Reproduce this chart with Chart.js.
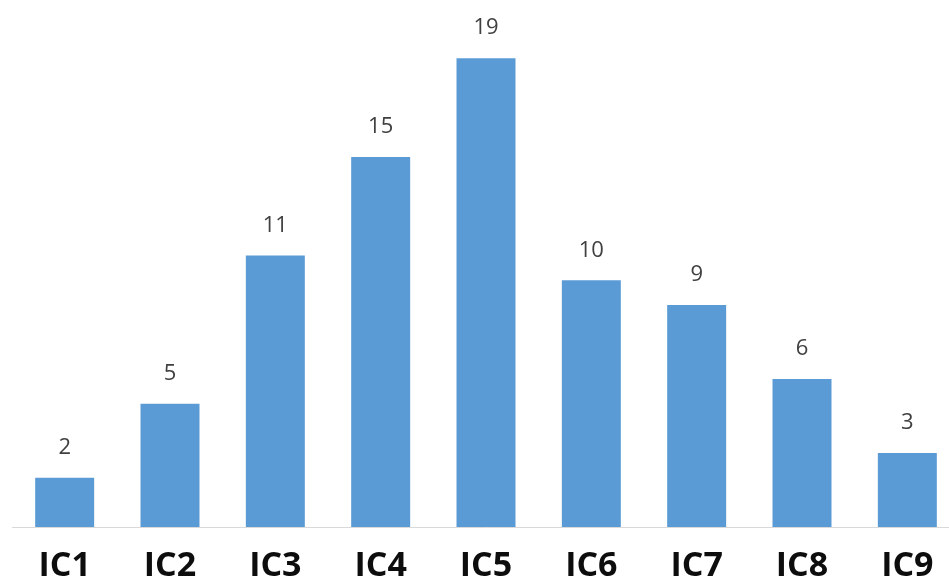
<!DOCTYPE html>
<html>
<head>
<meta charset="utf-8">
<script src="https://cdn.jsdelivr.net/npm/chart.js@4"></script>
<style>
  html, body { margin: 0; padding: 0; background: #fff; overflow: hidden; }
  #wrap { width: 962px; height: 600px; }
</style>
</head>
<body>
<div id="wrap"><canvas id="icChart"></canvas></div>
<script>
const categories = ['IC1', 'IC2', 'IC3', 'IC4', 'IC5', 'IC6', 'IC7', 'IC8', 'IC9'];
const counts = [2, 5, 11, 15, 19, 10, 9, 6, 3];

// draws the number above each bar
const valueLabels = {
    id: 'valueLabels',
    afterDatasetsDraw(chart) {
        const ctx = chart.ctx;
        const meta = chart.getDatasetMeta(0);
        ctx.save();
        ctx.fillStyle = '#404040';
        ctx.font = '22px "Open Sans"';
        ctx.textAlign = 'center';
        ctx.textBaseline = 'middle';
        meta.data.forEach((bar, i) => {
            ctx.fillText(String(counts[i]), bar.x, bar.y - 30);
        });
        ctx.restore();
    }
};

new Chart(document.getElementById('icChart'), {
    type: 'bar',
    data: {
        labels: categories,
        datasets: [{
            data: counts,
            backgroundColor: '#5B9BD5',
            categoryPercentage: 1,
            barPercentage: 0.56
        }]
    },
    options: {
        responsive: true,
        maintainAspectRatio: false,
        animation: false,
        layout: { padding: { left: 12, right: 2, top: 0, bottom: 0 } },
        plugins: { legend: { display: false }, tooltip: { enabled: false } },
        scales: {
            y: {
                display: false,
                min: 0,
                max: 21.36
            },
            x: {
                grid: { display: false, drawTicks: false },
                border: { display: true, color: '#d9d9d9', width: 1 },
                ticks: {
                    color: '#0d0d0d',
                    padding: 19,
                    font: { family: '"Open Sans"', size: 34, weight: 'bold' }
                },
                afterFit(scale) { scale.height = 73; }
            }
        }
    },
    plugins: [valueLabels]
});
</script>
</body>
</html>
